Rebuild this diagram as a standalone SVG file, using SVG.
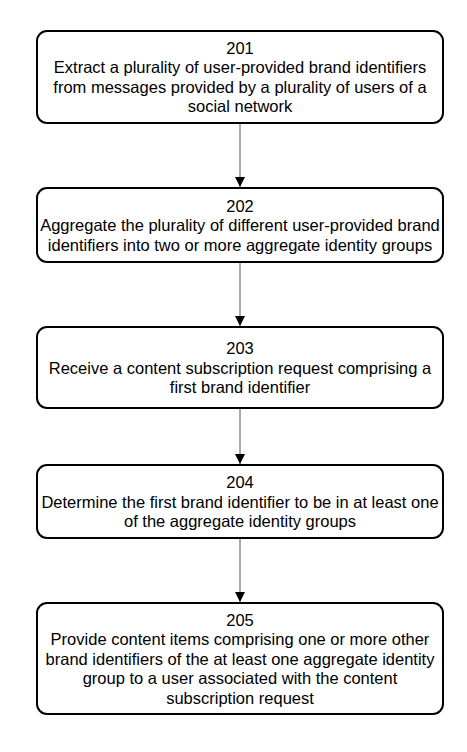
<svg xmlns="http://www.w3.org/2000/svg" width="467" height="752" viewBox="0 0 467 752">
<style>
.box{fill:#fff;stroke:#000;stroke-width:2}
.t{font-family:"Liberation Sans",Arial,sans-serif;font-size:16.5px;fill:#000;text-anchor:middle}
.c{stroke:#555;stroke-width:1;fill:none}
</style>
<defs>
<marker id="ah" viewBox="0 0 10 10" refX="10" refY="5" markerWidth="10" markerHeight="10" markerUnits="userSpaceOnUse" orient="auto">
<path d="M0,0 L10,5 L0,10 Z" fill="#000"/>
</marker>
</defs>
<rect width="467" height="752" fill="#fff"/>
<g id="connectors">
<line class="c" x1="240" y1="123" x2="240" y2="187" marker-end="url(#ah)"/>
<line class="c" x1="240" y1="262" x2="240" y2="326" marker-end="url(#ah)"/>
<line class="c" x1="240" y1="408" x2="240" y2="464" marker-end="url(#ah)"/>
<line class="c" x1="240" y1="538" x2="240" y2="602" marker-end="url(#ah)"/>
</g>
<g id="n201">
<rect class="box" x="37" y="31" width="406" height="92" rx="10"/>
<text class="t" x="240" y="53.8">201</text>
<text class="t" x="240" y="73.3">Extract a plurality of user-provided brand identifiers</text>
<text class="t" x="240" y="92.8">from messages provided by a plurality of users of a</text>
<text class="t" x="240" y="112.3">social network</text>
</g>
<g id="n202">
<rect class="box" x="37" y="188" width="406" height="74" rx="10"/>
<text class="t" x="240" y="211.8">202</text>
<text class="t" x="240" y="231.3">Aggregate the plurality of different user-provided brand</text>
<text class="t" x="240" y="250.8">identifiers into two or more aggregate identity groups</text>
</g>
<g id="n203">
<rect class="box" x="37" y="327" width="406" height="81" rx="10"/>
<text class="t" x="240" y="354">203</text>
<text class="t" x="240" y="373.5">Receive a content subscription request comprising a</text>
<text class="t" x="240" y="393">first brand identifier</text>
</g>
<g id="n204">
<rect class="box" x="37" y="465" width="406" height="73" rx="10"/>
<text class="t" x="240" y="488">204</text>
<text class="t" x="240" y="507.5">Determine the first brand identifier to be in at least one</text>
<text class="t" x="240" y="527">of the aggregate identity groups</text>
</g>
<g id="n205">
<rect class="box" x="37" y="603" width="406" height="111" rx="10"/>
<text class="t" x="240" y="625.5">205</text>
<text class="t" x="240" y="645">Provide content items comprising one or more other</text>
<text class="t" x="240" y="664.5">brand identifiers of the at least one aggregate identity</text>
<text class="t" x="240" y="684">group to a user associated with the content</text>
<text class="t" x="240" y="703.5">subscription request</text>
</g>
</svg>
